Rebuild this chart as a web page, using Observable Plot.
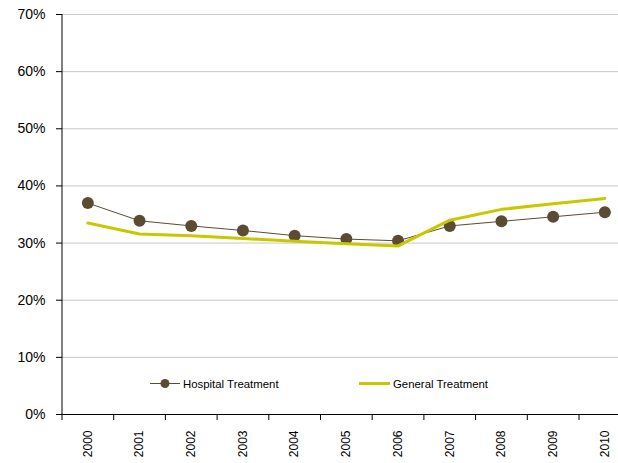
<!DOCTYPE html>
<html>
<head>
<meta charset="utf-8">
<script src="https://cdn.jsdelivr.net/npm/d3@7"></script>
<script src="https://cdn.jsdelivr.net/npm/@observablehq/plot@0.6"></script>
<style>
  html, body { margin: 0; padding: 0; background: #fff; }
  #wrap { position: relative; width: 618px; height: 463px; font-family: "Liberation Sans", Arial, sans-serif; }
  #legend { position: absolute; left: 0; top: 0; pointer-events: none; }
</style>
</head>
<body>
<div id="wrap"></div>
<script>
const years = [2000, 2001, 2002, 2003, 2004, 2005, 2006, 2007, 2008, 2009, 2010];
const hospital = [0.370, 0.339, 0.330, 0.322, 0.313, 0.307, 0.304, 0.330, 0.338, 0.346, 0.354];
const general = [0.335, 0.316, 0.313, 0.308, 0.303, 0.299, 0.295, 0.340, 0.359, 0.369, 0.378];
const yTicks = [0, 0.1, 0.2, 0.3, 0.4, 0.5, 0.6, 0.7];
const seriesNames = ["Hospital Treatment", "General Treatment"];
const colors = ["#5c4b33", "#c8c800"];

const hospData = years.map((y, i) => ({year: y, value: hospital[i]}));
const genData = years.map((y, i) => ({year: y, value: general[i]}));
const boundaries = years.map(y => y - 0.5).concat([years[years.length - 1] + 0.5]);

const chart = Plot.plot({
  width: 618,
  height: 463,
  marginLeft: 62,
  marginRight: 0,
  marginTop: 14,
  marginBottom: 49,
  style: {fontFamily: "'Liberation Sans', Arial, sans-serif", background: "white", color: "#000"},
  x: {domain: [years[0] - 0.5, years[years.length - 1] + 0.5], range: [61.5, 630.2]},
  y: {domain: [0, 0.7], range: [414, 14]},
  marks: [
    Plot.ruleY(yTicks.filter(d => d > 0), {stroke: "#c8c8c8", strokeWidth: 1}),
    Plot.axisY({ticks: yTicks, tickFormat: d => Math.round(d * 100) + "%", tickSize: 6, tickPadding: 11, fontSize: 14, label: null, stroke: "#000"}),
    Plot.axisX({ticks: boundaries, tickFormat: () => "", tickSize: 6, label: null, stroke: "#000"}),
    Plot.axisX({ticks: years, tickFormat: d => String(d), tickSize: 0, tickPadding: 16, tickRotate: -90, fontSize: 12, label: null}),
    Plot.ruleY([0], {stroke: "#000"}),
    Plot.ruleX([years[0] - 0.5], {stroke: "#000"}),
    Plot.line(hospData, {x: "year", y: "value", stroke: colors[0], strokeWidth: 1}),
    Plot.dot(hospData, {x: "year", y: "value", r: 6, fill: colors[0], stroke: "none"}),
    Plot.line(genData, {x: "year", y: "value", stroke: colors[1], strokeWidth: 3})
  ]
});

const wrap = document.getElementById("wrap");
wrap.appendChild(chart);

// legend overlay
const ns = "http://www.w3.org/2000/svg";
const leg = document.createElementNS(ns, "svg");
leg.setAttribute("id", "legend");
leg.setAttribute("width", 618);
leg.setAttribute("height", 463);
function el(tag, attrs, parent) {
  const e = document.createElementNS(ns, tag);
  for (const k in attrs) e.setAttribute(k, attrs[k]);
  parent.appendChild(e);
  return e;
}
el("line", {x1: 150, x2: 180, y1: 383.5, y2: 383.5, stroke: colors[0], "stroke-width": 1}, leg);
el("circle", {cx: 165, cy: 383.5, r: 4.5, fill: colors[0]}, leg);
const t1 = el("text", {x: 183, y: 388, "font-size": 11.4, "font-family": "'Liberation Sans', Arial, sans-serif", fill: "#000"}, leg);
t1.textContent = seriesNames[0];
el("line", {x1: 359, x2: 390, y1: 383.5, y2: 383.5, stroke: colors[1], "stroke-width": 3}, leg);
const t2 = el("text", {x: 393, y: 388, "font-size": 11.4, "font-family": "'Liberation Sans', Arial, sans-serif", fill: "#000"}, leg);
t2.textContent = seriesNames[1];
wrap.appendChild(leg);
</script>
</body>
</html>
